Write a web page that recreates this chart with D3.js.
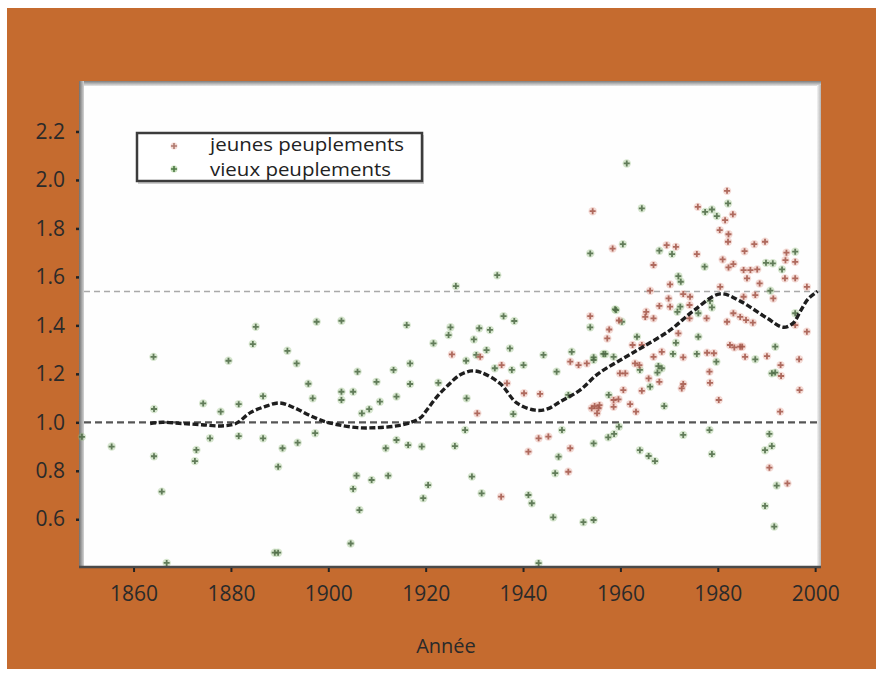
<!DOCTYPE html>
<html>
<head>
<meta charset="utf-8">
<script src="https://cdn.jsdelivr.net/npm/d3@7"></script>
<style>
  html, body { margin: 0; padding: 0; background: #ffffff; }
  svg { display: block; }
</style>
</head>
<body>
<svg id="chart" width="883" height="675"></svg>
<script>
// ---------- DATA ----------
const xTicks = [1860, 1880, 1900, 1920, 1940, 1960, 1980, 2000];
const yTicks = [0.6, 0.8, 1.0, 1.2, 1.4, 1.6, 1.8, 2.0, 2.2];
const xLabel = "Année";
const seriesNames = ["jeunes peuplements", "vieux peuplements"];
const refLines = [1.0, 1.54];

const jeunesYears = [1925.4,1931.2,1930.6,1935.5,1935.6,1936.7,1940.2,1943.5,1941.1,1943.2,1945.2,1949.3,1949.7,1949.7,1951.4,1953.1,1954.1,1955.5,1955.7,1955.2,1958.6,1953.8,1954.3,1958.4,1957.7,1957.3,1959.7,
  1981.9,1975.9,1981.5,1983.1,1980.4,1982.2,1982.1,1969.5,1971.4,1975.7,1966.8,1981.0,1982.2,1983.2,1985.5,1987.5,1989.7,1994.1,1995.9,1993.9,1985.3,1986.7,1988.1,1986.0,1988.6,1993.8,1995.9,
  1970.2,1980.5,1966.1,1972.9,1974.3,1998.3,1969.9,1985.3,1987.7,1991.4,1965.3,1968.0,1970.2,1974.2,1965.1,1966.8,1974.2,1977.7,1983.2,1984.6,1985.8,1987.2,1981.9,1995.9,1998.3,1971.9,
  1982.5,1984.6,1962.5,1964.4,1983.4,1985.0,1966.8,1968.5,1972.9,1977.8,1979.2,1985.6,1990.1,1992.9,1996.7,1963.0,1963.9,1993.0,1978.3,1959.9,1961.0,1965.8,1968.0,1978.4,1972.9,1972.6,
  1964.4,1960.6,1996.8,1958.6,1959.6,1962.0,1980.2,1954.7,1963.2,1992.8,1990.6,1994.3];
const jeunesValues = [1.28,1.27,1.037,0.693,1.236,1.161,1.12,1.117,0.879,0.934,0.941,0.796,0.893,1.25,1.236,1.243,1.058,1.058,1.071,1.037,1.064,1.438,1.871,1.717,1.383,1.346,1.42,
  1.955,1.889,1.834,1.858,1.793,1.776,1.745,1.731,1.724,1.694,1.649,1.672,1.639,1.653,1.706,1.735,1.745,1.70,1.662,1.669,1.628,1.628,1.631,1.594,1.573,1.594,1.594,
  1.569,1.559,1.543,1.529,1.518,1.559,1.511,1.518,1.525,1.511,1.456,1.48,1.477,1.484,1.435,1.429,1.429,1.429,1.45,1.435,1.422,1.411,1.415,1.401,1.374,1.367,
  1.319,1.312,1.319,1.319,1.309,1.312,1.27,1.291,1.268,1.287,1.285,1.27,1.273,1.236,1.26,1.243,1.236,1.191,1.209,1.202,1.202,1.181,1.167,1.163,1.158,1.14,
  1.13,1.133,1.133,1.092,1.095,1.075,1.092,1.067,1.044,1.044,0.813,0.748];

const vieuxYears = [1849.4,1855.5,1864.1,1864.2,1864.2,1865.8,1866.8,1874.3,1872.9,1872.6,1875.7,1877.9,1879.5,1881.6,1881.6,1884.5,1885.1,1886.6,1886.6,1889.7,1890.6,1891.6,1889.0,1889.7,1893.5,1893.7,
  1895.9,1896.8,1897.3,1897.6,1902.7,1902.7,1902.7,1905.1,1906.0,1906.9,1908.4,1909.9,1910.6,1913.4,1914.0,1916.8,1916.8,1916.1,1914.0,1916.4,1911.8,1919.2,1905.8,1908.9,1912.3,1905.1,1906.4,1904.6,
  1920.5,1919.5,1921.6,1922.6,1924.7,1925.1,1926.2,1926.0,1928.3,1929.5,1928.4,1928.1,1929.9,1930.4,1931.0,1931.5,1932.5,1933.2,1934.2,1934.7,1936.0,1937.3,1937.7,1938.2,1938.0,1940.1,1941.1,1941.8,
  1943.2,1944.2,1946.9,1947.3,1946.6,1948.0,1946.2,1950.0,1949.3,1952.4,1954.5,1954.5,1954.5,1953.8,1953.8,1954.5,1956.5,1958.6,1959.1,1957.6,1958.7,1959.7,1958.9,1960.3,1960.5,1961.3,1964.4,1963.4,
  1968.0,1970.6,1971.9,1972.4,1977.4,1978.8,1979.8,1982.1,1977.3,1989.9,1991.3,1993.2,1990.8,1978.4,1978.8,1972.3,1971.7,1976.0,1995.9,1995.9,1971.4,1976.0,1991.8,1956.9,1970.8,1975.7,1979.7,1987.7,
  1967.8,1968.5,1967.6,1964.0,1991.1,1991.8,1966.1,1969.0,1978.3,1972.9,1990.6,1957.5,1991.1,1989.7,1964.0,1965.8,1967.1,1978.8,1992.1,1989.7,1991.6];
const vieuxValues = [0.94,0.90,1.27,1.055,0.86,0.714,0.42,1.078,0.886,0.84,0.934,1.044,1.254,1.075,0.943,1.323,1.394,1.108,0.934,0.817,0.893,1.295,0.462,0.462,1.243,0.916,
  1.159,1.099,0.955,1.415,1.419,1.126,1.092,1.126,1.209,1.037,1.054,1.167,1.085,1.216,1.106,1.243,1.158,1.401,0.927,0.906,0.893,0.90,0.78,0.762,0.78,0.725,0.638,0.50,
  0.741,0.687,1.326,1.163,1.36,1.392,1.562,0.902,1.254,0.776,1.099,0.968,1.342,1.278,1.388,0.707,1.298,1.381,1.223,1.607,1.438,1.305,1.216,1.418,1.034,1.236,0.70,0.666,
  0.419,1.278,1.209,0.858,0.79,0.968,0.608,1.291,1.113,0.588,0.597,0.913,1.257,1.392,1.697,1.268,1.282,1.27,1.463,1.113,0.952,0.982,1.466,1.415,1.735,2.068,1.883,1.353,
  1.708,1.694,1.603,1.58,1.868,1.878,1.851,1.903,1.642,1.658,1.656,1.631,1.543,1.501,1.474,1.477,1.456,1.45,1.45,1.704,1.328,1.353,1.312,1.282,1.282,1.282,1.25,1.26,
  1.232,1.223,1.205,1.216,1.202,1.205,1.147,1.067,0.968,0.948,0.952,0.938,0.902,0.885,0.885,0.861,0.84,0.869,0.739,0.655,0.57];

const trendYears = [1863.4,1866,1870,1874,1878,1881,1884,1887,1890,1893,1896,1899,1902,1906,1910,1914,1917,1919,1920.2,1922.3,1924.3,1927,1929.5,1931.5,1935.3,1938.7,1942.5,1945,1947.6,1951.7,1955.4,1960.6,1964.7,1970.2,1975,1980.5,1984.6,1990.1,1993.5,1995.5,1997,1998.6,2000.5];
const trendValues = [0.995,1.0,0.995,0.99,0.985,0.995,1.04,1.065,1.08,1.06,1.03,1.005,0.99,0.978,0.978,0.985,1.0,1.02,1.05,1.105,1.147,1.195,1.212,1.205,1.16,1.08,1.05,1.055,1.085,1.133,1.2,1.264,1.312,1.38,1.46,1.53,1.50,1.43,1.392,1.41,1.46,1.51,1.54];

// ---------- LAYOUT ----------
const svg = d3.select("#chart");
const FONT = "'Open Sans', 'Noto Sans', sans-serif";
const plot = { left: 80, right: 821, top: 82, bottom: 567 };

const x = d3.scaleLinear().domain([1849, 2001.2]).range([plot.left, plot.right]);
const y = d3.scaleLinear().domain([0.403, 2.4]).range([plot.bottom, 83]);

// orange panel
svg.append("rect").attr("x", 7).attr("y", 8).attr("width", 869).attr("height", 661).attr("fill", "#c56b2f");

// plot area
svg.append("rect").attr("x", plot.left).attr("y", plot.top)
  .attr("width", plot.right - plot.left).attr("height", plot.bottom - plot.top).attr("fill", "#fefefe");
const defs = svg.append("defs");
const gT = defs.append("linearGradient").attr("id", "gTop").attr("x1", 0).attr("y1", 0).attr("x2", 0).attr("y2", 1);
gT.append("stop").attr("offset", "0%").attr("stop-color", "#7d7d7d");
gT.append("stop").attr("offset", "100%").attr("stop-color", "#e8e8e8");
const gL = defs.append("linearGradient").attr("id", "gLeft").attr("x1", 0).attr("y1", 0).attr("x2", 1).attr("y2", 0);
gL.append("stop").attr("offset", "0%").attr("stop-color", "#6f6f6f");
gL.append("stop").attr("offset", "100%").attr("stop-color", "#d5d5d5");
const gR = defs.append("linearGradient").attr("id", "gRight").attr("x1", 0).attr("y1", 0).attr("x2", 1).attr("y2", 0);
gR.append("stop").attr("offset", "0%").attr("stop-color", "#f4f4f4");
gR.append("stop").attr("offset", "100%").attr("stop-color", "#b5b5b5");
svg.append("rect").attr("x", plot.left).attr("y", plot.top - 1).attr("width", plot.right - plot.left).attr("height", 5).attr("fill", "url(#gTop)");
svg.append("rect").attr("x", plot.left - 1).attr("y", plot.top - 1).attr("width", 5).attr("height", plot.bottom - plot.top + 1).attr("fill", "url(#gLeft)");
svg.append("rect").attr("x", plot.right - 4).attr("y", plot.top + 3).attr("width", 4).attr("height", plot.bottom - plot.top - 3).attr("fill", "url(#gRight)");

// reference dashed lines
svg.append("line").attr("x1", plot.left + 4).attr("x2", plot.right)
  .attr("y1", y(refLines[1])).attr("y2", y(refLines[1]))
  .attr("stroke", "#a9a9a9").attr("stroke-width", 1.5).attr("stroke-dasharray", "6,4");
svg.append("line").attr("x1", plot.left + 4).attr("x2", plot.right)
  .attr("y1", y(refLines[0])).attr("y2", y(refLines[0]))
  .attr("stroke", "#555").attr("stroke-width", 2.2).attr("stroke-dasharray", "7,4");

// scatter markers
function drawSeries(years, values, stroke, halo) {
  const pts = years.map((yr, i) => [yr, values[i]]);
  const g = svg.append("g");
  g.selectAll("circle").data(pts).join("circle")
    .attr("cx", d => x(d[0])).attr("cy", d => y(d[1])).attr("r", 4.2)
    .attr("fill", halo).attr("opacity", 0.35);
  g.selectAll("path").data(pts).join("path")
    .attr("d", d => {
      const cx = x(d[0]), cy = y(d[1]);
      return `M${cx - 3},${cy}H${cx + 3}M${cx},${cy - 3}V${cy + 3}`;
    })
    .attr("stroke", stroke).attr("stroke-width", 1.8).attr("opacity", 0.85);
}
drawSeries(vieuxYears, vieuxValues, "#4d6a45", "#8fbb78");
drawSeries(jeunesYears, jeunesValues, "#a4574a", "#e39b8b");

// trend curve
const trend = trendYears.map((yr, i) => [yr, trendValues[i]]);
svg.append("path").datum(trend)
  .attr("d", d3.line().x(d => x(d[0])).y(d => y(d[1])).curve(d3.curveCatmullRom.alpha(0.5)))
  .attr("fill", "none").attr("stroke", "#1e1e1e").attr("stroke-width", 3.4)
  .attr("stroke-dasharray", "6,2.5").attr("stroke-linecap", "butt");

// bottom axis line
svg.append("line").attr("x1", plot.left - 1).attr("x2", plot.right).attr("y1", plot.bottom).attr("y2", plot.bottom)
  .attr("stroke", "#4a4a4a").attr("stroke-width", 2.5);

// axes
const xAxis = svg.append("g").attr("transform", `translate(0,${plot.bottom + 1})`)
  .call(d3.axisBottom(x).tickValues(xTicks).tickFormat(d3.format("d")).tickSize(4).tickSizeOuter(0).tickPadding(14));
xAxis.select(".domain").remove();
xAxis.selectAll(".tick line").attr("stroke", "#222").attr("stroke-width", 2);
xAxis.selectAll(".tick text").attr("font-family", FONT).attr("font-size", 21).attr("fill", "#2a2a2a");

const yAxis = svg.append("g").attr("transform", `translate(${plot.left - 1},0)`)
  .call(d3.axisLeft(y).tickValues(yTicks).tickFormat(d3.format(".1f")).tickSize(3).tickSizeOuter(0).tickPadding(11));
yAxis.select(".domain").remove();
yAxis.selectAll(".tick line").attr("stroke", "#222").attr("stroke-width", 2.5);
yAxis.selectAll(".tick text").attr("font-family", FONT).attr("font-size", 21).attr("fill", "#2a2a2a");

// x label
svg.append("text").attr("x", 446).attr("y", 653).attr("text-anchor", "middle")
  .attr("font-family", FONT).attr("font-size", 20).attr("fill", "#2a2a2a").text(xLabel);

// legend
const lg = svg.append("g");
lg.append("rect").attr("x", 138).attr("y", 135).attr("width", 286).attr("height", 49).attr("fill", "#9a9a9a").attr("opacity", 0.5);
lg.append("rect").attr("x", 137).attr("y", 133).attr("width", 285).attr("height", 48)
  .attr("fill", "#ffffff").attr("stroke", "#3c3c3c").attr("stroke-width", 2.5);
const legendItems = [
  { name: seriesNames[0], stroke: "#b07a70", halo: "#e8b3a8", cy: 146, base: 151, len: 194 },
  { name: seriesNames[1], stroke: "#4d7a45", halo: "#8fbb78", cy: 169, base: 176, len: 181 }
];
legendItems.forEach(it => {
  lg.append("circle").attr("cx", 174).attr("cy", it.cy).attr("r", 3.5).attr("fill", it.halo).attr("opacity", 0.5);
  lg.append("path").attr("d", `M171,${it.cy}H177M174,${it.cy - 3}V${it.cy + 3}`)
    .attr("stroke", it.stroke).attr("stroke-width", 1.6);
  lg.append("text").attr("x", 210).attr("y", it.base).attr("font-family", FONT).attr("font-size", 18.3)
    .attr("textLength", it.len).attr("lengthAdjust", "spacingAndGlyphs")
    .attr("fill", "#222").text(it.name);
});
</script>
</body>
</html>
